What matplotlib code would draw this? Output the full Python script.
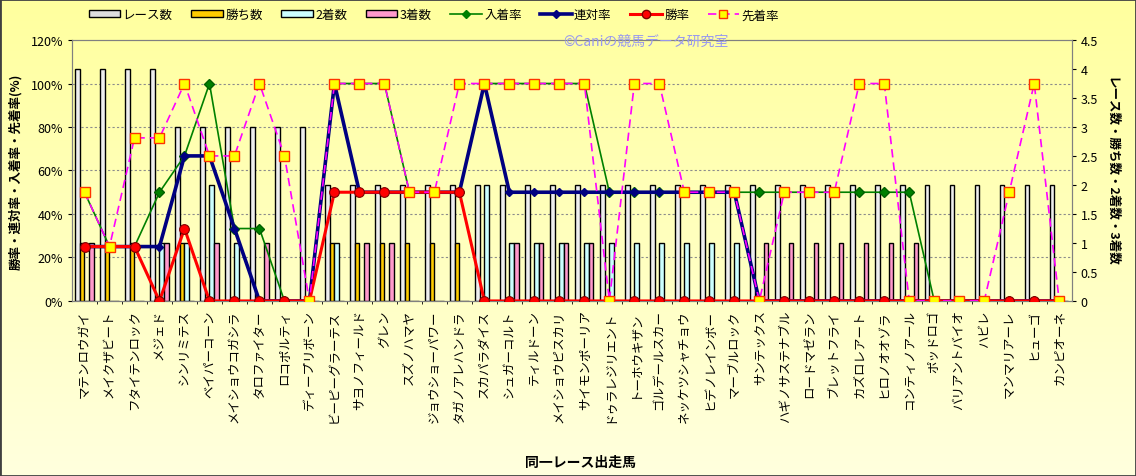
import matplotlib.pyplot as plt
import numpy as np
from matplotlib.ticker import MultipleLocator, FixedLocator, FormatStrFormatter
from matplotlib.patches import Patch, Rectangle
from matplotlib.lines import Line2D

plt.rcParams['font.family'] = ['Noto Sans CJK JP', 'DejaVu Sans']
plt.rcParams['font.size'] = 9

# --- data ---
horses = ['マテンロウガイ', 'メイクザビート', 'フタイテンロック', 'メジェド', 'シンリミテス',
          'ベイパーコーン', 'メイショウコガシラ', 'タロファイター', 'ロコポルティ', 'ディープリボーン',
          'ビーピーグラーテス', 'サヨノフィールド', 'グレン', 'スズノハマヤ', 'ジョウショーパワー',
          'タガノアレハンドラ', 'スカパラダイス', 'シュガーコルト', 'ティルドーン', 'メイショウピスカリ',
          'サイモンポーリア', 'ドゥラレジリエント', 'トーホウキザン', 'ゴルデールスカー', 'ネッケツシャチョウ',
          'ヒデノレインボー', 'マーブルロック', 'サンテックス', 'ハギノサステナブル', 'ロードマゼラン',
          'ブレットフライ', 'カズロレアート', 'ヒロノオオゾラ', 'コンティノアール', 'ポッドロゴ',
          'バリアントバイオ', 'ハビレ', 'マンマリアーレ', 'ヒューゴ', 'カンピオーネ']

races = [4, 4, 4, 4, 3, 3, 3, 3, 3, 3,
         2, 2, 2, 2, 2, 2, 2, 2, 2, 2,
         2, 2, 2, 2, 2, 2, 2, 2, 2, 2,
         2, 2, 2, 2, 2, 2, 2, 2, 2, 2]
wins = [1, 1, 1, 0, 1, 0, 0, 0, 0, 0,
        1, 1, 1, 1, 1, 1, 0, 0, 0, 0,
        0, 0, 0, 0, 0, 0, 0, 0, 0, 0,
        0, 0, 0, 0, 0, 0, 0, 0, 0, 0]
seconds = [0, 0, 0, 1, 1, 2, 1, 0, 0, 0,
           1, 0, 0, 0, 0, 0, 2, 1, 1, 1,
           1, 1, 1, 1, 1, 1, 1, 0, 0, 0,
           0, 0, 0, 0, 0, 0, 0, 0, 0, 0]
thirds = [1, 0, 0, 1, 0, 1, 0, 1, 0, 0,
          0, 1, 1, 0, 0, 0, 0, 1, 1, 1,
          1, 0, 0, 0, 0, 0, 0, 1, 1, 1,
          1, 1, 1, 1, 0, 0, 0, 0, 0, 0]

place_rate = [50, 25, 25, 50, 66.7, 100, 33.3, 33.3, 0, 0,
              100, 100, 100, 50, 50, 50, 100, 100, 100, 100,
              100, 50, 50, 50, 50, 50, 50, 50, 50, 50,
              50, 50, 50, 50, 0, 0, 0, 0, 0, 0]
quinella_rate = [25, 25, 25, 25, 66.7, 66.7, 33.3, 0, 0, 0,
                 100, 50, 50, 50, 50, 50, 100, 50, 50, 50,
                 50, 50, 50, 50, 50, 50, 50, 0, 0, 0,
                 0, 0, 0, 0, 0, 0, 0, 0, 0, 0]
win_rate = [25, 25, 25, 0, 33.3, 0, 0, 0, 0, 0,
            50, 50, 50, 50, 50, 50, 0, 0, 0, 0,
            0, 0, 0, 0, 0, 0, 0, 0, 0, 0,
            0, 0, 0, 0, 0, 0, 0, 0, 0, 0]
ahead_rate = [50, 25, 75, 75, 100, 66.7, 66.7, 100, 66.7, 0,
              100, 100, 100, 50, 50, 100, 100, 100, 100, 100,
              100, 0, 100, 100, 50, 50, 50, 0, 50, 50,
              50, 100, 100, 0, 0, 0, 0, 50, 100, 0]

pct_ticks = [0, 20, 40, 60, 80, 100, 120]

x = np.arange(len(horses))

fig = plt.figure(figsize=(11.36, 4.77), dpi=100)

# yellow gradient background
bg = fig.add_axes([0, 0, 1, 1], zorder=-10)
grad = np.linspace(0, 1, 256).reshape(-1, 1)
c_top = np.array([1.0, 1.0, 0.62])
c_bot = np.array([1.0, 1.0, 0.87])
img = c_top + (c_bot - c_top) * grad[:, :, None]
bg.imshow(img, aspect='auto', extent=[0, 1, 0, 1])
bg.axis('off')
fig.patches.append(Rectangle((0, 0), 1, 1, transform=fig.transFigure, fill=False,
                             edgecolor='#404040', linewidth=2))

ax = fig.add_axes([0.0634, 0.367, 0.880, 0.547])
ax2 = ax.twinx()
ax.set_zorder(ax2.get_zorder() + 1)
ax.patch.set_visible(False)
ax2.patch.set_facecolor('#dbe8f6')

# count bars (right axis)
w = 0.18
ax2.bar(x - 0.28, races, w, color='#eeeeee', edgecolor='black', linewidth=1.0, zorder=2)
ax2.bar(x - 0.095, wins, w, color='#ffcc00', edgecolor='black', linewidth=1.0, zorder=2)
ax2.bar(x + 0.09, seconds, w, color='#ccffff', edgecolor='black', linewidth=1.0, zorder=2)
ax2.bar(x + 0.275, thirds, w, color='#ff99cc', edgecolor='black', linewidth=1.0, zorder=2)
ax2.set_ylim(0, 4.5)
ax2.yaxis.set_major_locator(MultipleLocator(0.5))
ax2.yaxis.set_major_formatter(FormatStrFormatter('%g'))
ax2.xaxis.set_minor_locator(FixedLocator(x[1:] - 0.5))
ax2.grid(which='minor', axis='x', color='#8c8c8c', linestyle=(0, (2, 2)), linewidth=0.8,
         zorder=0.5)
# horizontal grid follows the left (percent) axis
for p in pct_ticks[1:-1]:
    ax2.axhline(p * 4.5 / 120, color='#8c8c8c', linestyle=(0, (2, 2)), linewidth=0.8,
                zorder=0.5)
ax2.tick_params(which='minor', length=0)
ax2.tick_params(axis='y', labelsize=9, length=3)
ax2.set_ylabel('レース数・勝ち数・2着数・3着数', rotation=270, labelpad=14,
               fontsize=9, fontweight='bold')

# rate lines (left axis)
ax.plot(x, place_rate, color='#008000', linewidth=1.2, marker='D', markersize=5,
        markerfacecolor='#008000', markeredgecolor='#006000', label='入着率', zorder=3)
ax.plot(x, quinella_rate, color='#000080', linewidth=2.6, marker='D', markersize=4.5,
        markerfacecolor='#000080', markeredgecolor='#000080', label='連対率', zorder=4)
ax.plot(x, win_rate, color='#ff0000', linewidth=2.2, marker='o', markersize=7,
        markerfacecolor='#ff0000', markeredgecolor='#800000', markeredgewidth=0.8,
        label='勝率', zorder=5)
ax.plot(x, ahead_rate, color='#ff00ff', linewidth=1.2, linestyle=(0, (5, 3)), marker='s',
        markersize=7, markerfacecolor='#ffff00', markeredgecolor='#ff3300',
        markeredgewidth=1, label='先着率', zorder=6)

ax.set_xlim(-0.5, len(horses) - 0.5)
ax.set_yticks(pct_ticks)
ax.set_yticklabels([f'{v}%' for v in pct_ticks])
ax.set_ylim(0, 120)
ax.set_xticks(x)
ax.set_xticklabels(horses, rotation=90, fontsize=9)
ax.tick_params(axis='x', length=0, pad=6)
ax.tick_params(axis='y', labelsize=9, length=3)
ax.set_ylabel('勝率・連対率・入着率・先着率(%)', fontsize=9, fontweight='bold', labelpad=6)
for s in ax.spines.values():
    s.set_color('#808080')
for s in ax2.spines.values():
    s.set_color('#808080')

fig.text(0.511, 0.029, '同一レース出走馬', ha='center', va='center', fontsize=10,
         fontweight='bold')
fig.text(0.496, 0.912, '©Caniの競馬データ研究室', ha='left', va='center', fontsize=10,
         color='#9999ee')

handles = [
    Patch(facecolor='#dddddd', edgecolor='black', label='レース数'),
    Patch(facecolor='#ffcc00', edgecolor='black', label='勝ち数'),
    Patch(facecolor='#ccffff', edgecolor='black', label='2着数'),
    Patch(facecolor='#ff99cc', edgecolor='black', label='3着数'),
    Line2D([], [], color='#008000', lw=1.2, marker='D', markersize=4, label='入着率'),
    Line2D([], [], color='#000080', lw=2.6, marker='D', markersize=4, label='連対率'),
    Line2D([], [], color='#ff0000', lw=2.2, marker='o', markersize=6,
           markeredgecolor='#800000', label='勝率'),
    Line2D([], [], color='#ff00ff', lw=1.2, linestyle=(0, (5, 3)), marker='s', markersize=6,
           markerfacecolor='#ffff00', markeredgecolor='#ff3300', label='先着率'),
]
leg = fig.legend(handles=handles, loc='center', bbox_to_anchor=(0.382, 0.967), ncol=8,
                 frameon=False, fontsize=9, handlelength=2.5, handleheight=0.45,
                 columnspacing=1.5, handletextpad=0.2)

fig.savefig('out.png', dpi=100)
